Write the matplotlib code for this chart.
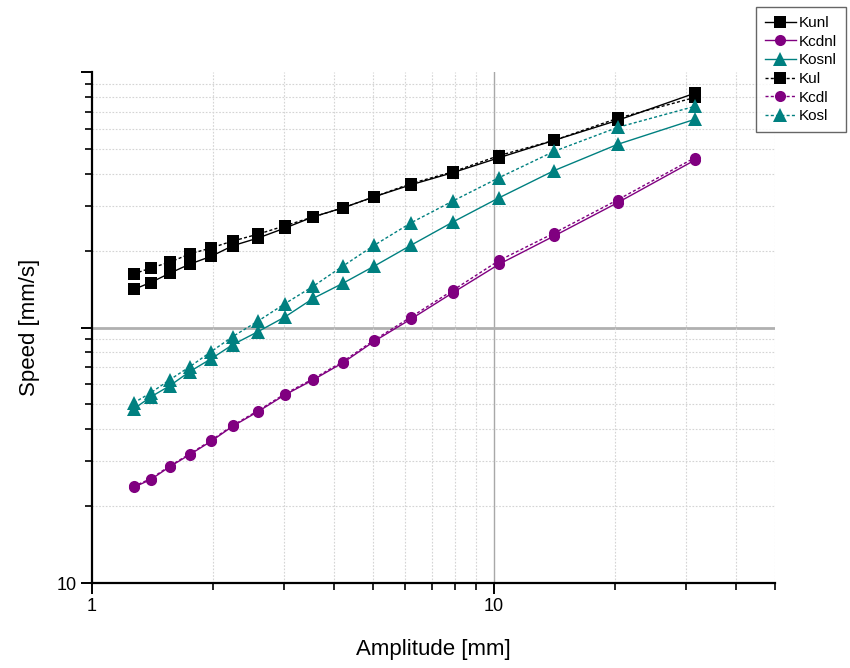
import matplotlib
matplotlib.use("Agg")
import matplotlib.pyplot as plt
from matplotlib.ticker import LogLocator, FixedLocator, FixedFormatter, NullFormatter

plt.rcParams["font.family"] = ["Liberation Sans", "DejaVu Sans"]

# amplitude steps [mm]
amplitude = [1.27, 1.40, 1.56, 1.75, 1.98, 2.24, 2.59, 3.02, 3.55, 4.21,
             5.04, 6.22, 7.91, 10.3, 14.1, 20.3, 31.6]

# speed [mm/s] per model
kunl = [141, 150, 163, 177, 190, 209, 224, 245, 271, 294,
        325, 362, 404, 462, 540, 647, 826]
kcdnl = [23.7, 25.4, 28.5, 31.8, 35.9, 41.1, 46.9, 54.5, 62.4, 72.8,
         88.4, 108, 137, 177, 228, 308, 452]
kosnl = [48.0, 53.5, 59.1, 67.2, 75.5, 85.7, 96.4, 110, 130, 149,
         174, 210, 259, 322, 411, 521, 653]
kul = [162, 171, 180, 194, 205, 218, 232, 250, 271, 294,
       325, 366, 407, 471, 540, 659, 795]
kcdl = [23.9, 25.6, 28.7, 32.0, 36.2, 41.4, 47.3, 55.0, 63.0, 73.6,
        89.4, 110, 140, 183, 234, 316, 462]
kosl = [50.7, 55.5, 62.4, 70.2, 80.5, 92.2, 106, 124, 145, 174,
        210, 257, 313, 386, 489, 607, 734]

BLACK = "#000000"
PURPLE = "#800080"
TEAL = "#008080"
DOT = (0, (2.2, 1.6))

series = [
    ("Kunl", kunl, BLACK, "s", "-"),
    ("Kcdnl", kcdnl, PURPLE, "o", "-"),
    ("Kosnl", kosnl, TEAL, "^", "-"),
    ("Kul", kul, BLACK, "s", DOT),
    ("Kcdl", kcdl, PURPLE, "o", DOT),
    ("Kosl", kosl, TEAL, "^", DOT),
]

fig = plt.figure(figsize=(8.5, 6.68), dpi=100)
ax = fig.add_axes([92 / 850, 1 - 583 / 668, (775 - 92) / 850, (583 - 72) / 668])
ax.set_xscale("log")
ax.set_yscale("log")
ax.set_xlim(1, 50)
ax.set_ylim(10, 1000)

# grid: solid grey at the decades, dotted for the minors
ax.grid(which="minor", color="#d4d4d4", linestyle=(0, (1.5, 1.5)), lw=0.8)
ax.axvline(10, color="#a8a8a8", lw=1.0, zorder=1)
ax.axhline(100, color="#b0b0b0", lw=2.0, zorder=1)

handles = []
for name, vals, col, mk, ls in series:
    h, = ax.plot(amplitude, vals, color=col, marker=mk, ls=ls, lw=1.0,
                 markersize=8 if mk != "^" else 9.5, markeredgewidth=0,
                 label=name, zorder=3)
    handles.append(h)

for side in ("top", "right"):
    ax.spines[side].set_visible(False)
for side in ("left", "bottom"):
    ax.spines[side].set_linewidth(1.6)

ax.xaxis.set_major_locator(FixedLocator([1, 10]))
ax.xaxis.set_major_formatter(FixedFormatter(["1", "10"]))
ax.xaxis.set_minor_locator(FixedLocator([2, 3, 4, 5, 6, 7, 8, 9, 20, 30, 40, 50]))
ax.xaxis.set_minor_formatter(NullFormatter())
ax.yaxis.set_major_locator(FixedLocator([10, 100, 1000]))
ax.yaxis.set_major_formatter(FixedFormatter(["10", "", ""]))
ax.yaxis.set_minor_locator(LogLocator(base=10, subs=range(2, 10)))
ax.yaxis.set_minor_formatter(NullFormatter())
ax.tick_params(which="major", direction="out", length=8, width=1.4,
               labelsize=13, pad=3)
ax.tick_params(which="minor", direction="out", length=5, width=1.2)

ax.set_xlabel("Amplitude [mm]", fontsize=16, labelpad=17)
ax.set_ylabel("Speed [mm/s]", fontsize=16, labelpad=12)

leg = fig.legend(handles=handles, loc="upper left",
                 bbox_to_anchor=(756 / 850, 1 - 7 / 668),
                 fontsize=11, frameon=True, fancybox=False,
                 handlelength=2.0, handletextpad=0.2, labelspacing=0.3,
                 borderpad=0.6, borderaxespad=0)
leg.get_frame().set_edgecolor("#404040")
leg.get_frame().set_linewidth(1.0)

fig.savefig("out.png", dpi=100)
